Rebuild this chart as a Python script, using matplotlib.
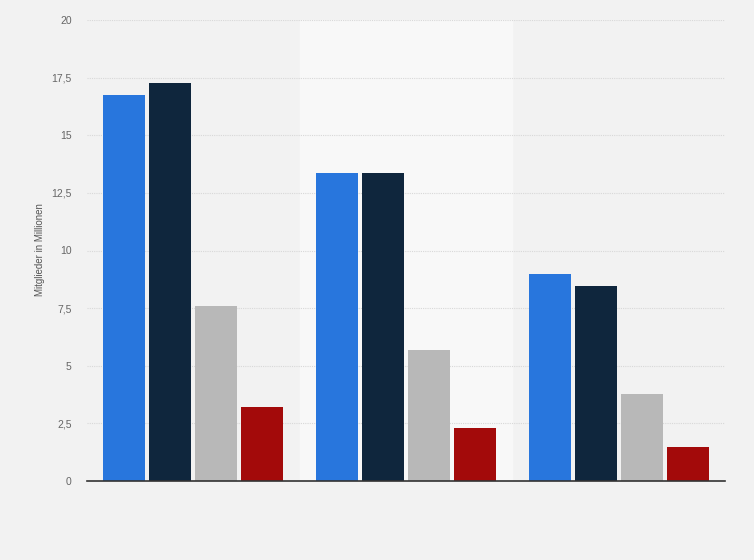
# Mitglieder in Millionen, three groups of four bars

import numpy as np
import matplotlib.pyplot as plt
from matplotlib.ticker import FuncFormatter

plt.rcParams['font.family'] = ['Liberation Sans', 'DejaVu Sans']

# Values (no category labels shown)
series_a = [16.75, 13.35, 8.97]   # blue
series_b = [17.27, 13.35, 8.46]   # dark navy
series_c = [7.6, 5.68, 3.77]      # grey
series_d = [3.21, 2.3, 1.47]      # red
y_ticks = [0, 2.5, 5, 7.5, 10, 12.5, 15, 17.5, 20]

series = [series_a, series_b, series_c, series_d]
colors = ["#2876dd", "#0f263d", "#b8b8b8", "#a30a0a"]

fig = plt.figure(figsize=(7.54, 5.6), dpi=100)
fig.patch.set_facecolor("#f2f2f2")
ax = fig.add_axes([87 / 754, 79 / 560, 638 / 754, 461 / 560])
ax.set_facecolor("#f2f2f2")

x = np.arange(len(series_a))
width = 0.196
step = 0.2163

# lighter band behind the middle group
ax.axvspan(0.5, 1.5, color="#f8f8f8", zorder=0)

for i, (vals, col) in enumerate(zip(series, colors)):
    ax.bar(x + (i - 1.5) * step, vals, width, color=col, linewidth=0, zorder=3)

ax.set_xlim(-0.5, 2.5)
ax.set_ylim(0, 20)
ax.set_yticks(y_ticks)
ax.yaxis.set_major_formatter(FuncFormatter(lambda v, p: f"{v:g}".replace(".", ",")))
ax.tick_params(axis="y", length=0, pad=11, labelsize=7.5, labelcolor="#666666")
ax.set_xticks([])

ax.grid(axis="y", color="#d8d8d8", linestyle=(0, (1, 1)), linewidth=0.8, zorder=1)
for s in ["top", "right", "left"]:
    ax.spines[s].set_visible(False)
ax.spines["bottom"].set_color("#333333")
ax.spines["bottom"].set_linewidth(1.2)
ax.spines["bottom"].set_zorder(4)

fig.text(40 / 754, 1 - 250 / 560, "Mitglieder in Millionen", rotation=90,
         ha="center", va="center", fontsize=7, color="#555555")

plt.savefig("out.png", dpi=100, facecolor=fig.get_facecolor())
